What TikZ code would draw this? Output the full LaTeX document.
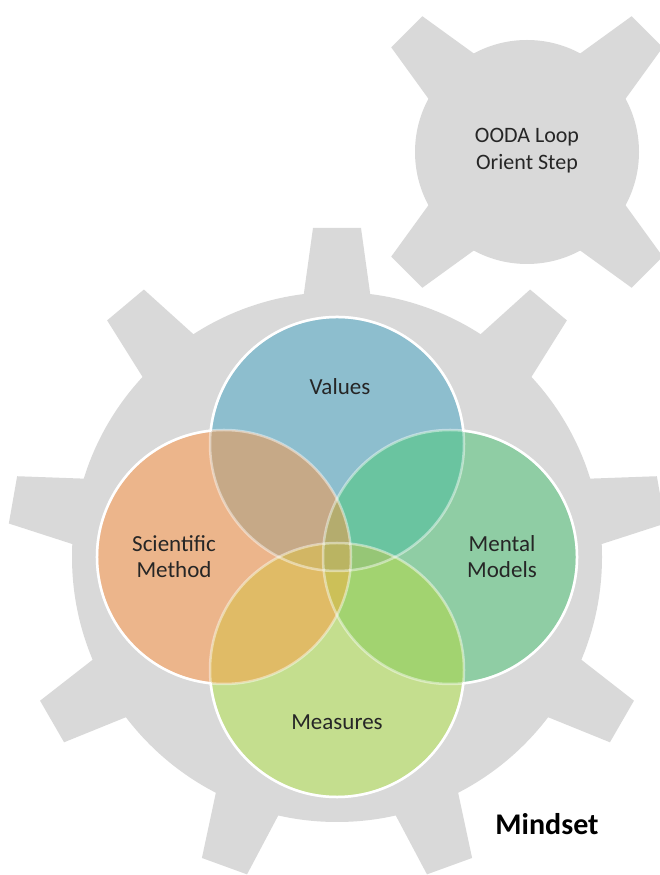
\documentclass[tikz,border=0pt]{standalone}
\usepackage{fontspec}
\setmainfont{Carlito}
\begin{document}
\begin{tikzpicture}[x=1pt,y=1pt,
  lbl/.style={inner sep=0pt, align=center, text=black!85, font={\fontsize{23}{26}\selectfont}},
  gearfill/.style={fill=gearc},
  ring/.style={white, line width=2.5pt}]
\definecolor{gearc}{RGB}{217,217,217}
\definecolor{cV}{RGB}{141,190,206}
\definecolor{cS}{RGB}{236,181,139}
\definecolor{cM}{RGB}{143,205,164}
\definecolor{cE}{RGB}{196,222,142}
\definecolor{cVS}{RGB}{198,169,135}
\definecolor{cVM}{RGB}{106,196,160}
\definecolor{cSE}{RGB}{224,187,102}
\definecolor{cME}{RGB}{162,211,112}
\definecolor{cSMV}{RGB}{180,172,110}
\definecolor{cSME}{RGB}{204,192,88}
\definecolor{cVES}{RGB}{210,182,100}
\definecolor{cVEM}{RGB}{150,198,118}
\definecolor{cQ}{RGB}{186,180,98}
\useasboundingbox (0,0) rectangle (659,875);
\fill[white] (0,0) rectangle (659,875);
% small gear
\coordinate (SG) at (527,723);
\fill[gearfill] (SG) circle (112);
\foreach \a in {45,135,225,315}
  \fill[gearfill, shift={(SG)}, rotate=\a] (95,-34) -- (170,-22) -- (170,22) -- (95,34) -- cycle;
% big gear
\coordinate (BG) at (337,318);
\fill[gearfill] (BG) circle (265);
\foreach \a in {90,130,...,410}
  \fill[gearfill, shift={(BG)}, rotate=\a] (250,-35) -- (329,-24) -- (329,24) -- (250,35) -- cycle;
% venn circles
\def\R{127}
\coordinate (V) at (337,431);
\coordinate (E) at (337,205);
\coordinate (S) at (224,318);
\coordinate (M) at (450,318);
\fill[cV] (V) circle (\R);
\fill[cS] (S) circle (\R);
\fill[cM] (M) circle (\R);
\fill[cE] (E) circle (\R);
\begin{scope}
  \clip (V) circle (\R);
  \fill[cVS] (S) circle (\R);
  \fill[cVM] (M) circle (\R);
\end{scope}
\begin{scope}
  \clip (E) circle (\R);
  \fill[cSE] (S) circle (\R);
  \fill[cME] (M) circle (\R);
\end{scope}
\begin{scope}
  \clip (S) circle (\R);
  \clip (M) circle (\R);
  \fill[cSMV] (V) circle (\R);
  \fill[cSME] (E) circle (\R);
\end{scope}
\begin{scope}
  \clip (V) circle (\R);
  \clip (E) circle (\R);
  \fill[cVES] (S) circle (\R);
  \fill[cVEM] (M) circle (\R);
\end{scope}
\begin{scope}
  \clip (V) circle (\R);
  \clip (E) circle (\R);
  \clip (S) circle (\R);
  \fill[cQ] (M) circle (\R);
\end{scope}
% outlines
\foreach \c in {V,S,M,E}
  \draw[ring, opacity=0.45] (\c) circle (\R);
\draw[ring] (V) ++(6:\R) arc[start angle=6, end angle=174, radius=\R];
\draw[ring] (S) ++(96:\R) arc[start angle=96, end angle=264, radius=\R];
\draw[ring] (M) ++(-84:\R) arc[start angle=-84, end angle=84, radius=\R];
\draw[ring] (E) ++(186:\R) arc[start angle=186, end angle=354, radius=\R];
% labels
\node[lbl] (tV) at (340,488) {Values};
\node[lbl] (tS) at (174,318) {Scientific\\Method};
\node[lbl] (tM) at (502,318) {Mental\\Models};
\node[lbl] (tE) at (337,153) {Measures};
\node[lbl, font={\fontsize{22}{27}\selectfont}] (tO) at (527,724) {OODA Loop\\Orient Step};
\node[inner sep=0pt, text=black, font={\fontsize{30}{34}\selectfont\bfseries}] (tMind) at (547,51) {Mindset};
\end{tikzpicture}
\end{document}
